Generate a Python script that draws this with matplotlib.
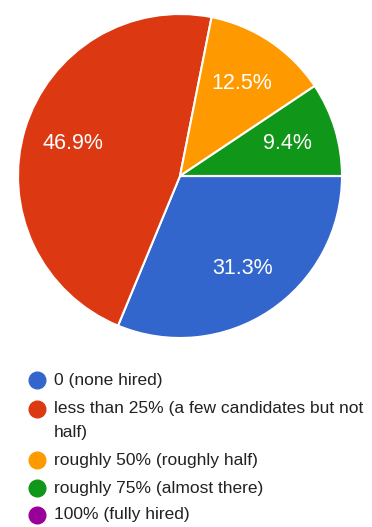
import math
import matplotlib
matplotlib.use("Agg")
import matplotlib.pyplot as plt
from matplotlib.lines import Line2D

plt.rcParams['font.family'] = ['Liberation Sans', 'DejaVu Sans']

# data
categories = ["0 (none hired)",
              "less than 25% (a few candidates but not\nhalf)",
              "roughly 50% (roughly half)",
              "roughly 75% (almost there)",
              "100% (fully hired)"]
counts = [10, 15, 4, 3, 0]
colors = ["#3366CC", "#DC3912", "#FF9900", "#109618", "#990099"]

W, H = 372, 527
fig = plt.figure(figsize=(W / 100, H / 100), dpi=100)

# pie area: centre (180, 176), radius 162 px
cx, cy, r = 180, 176, 162
ax = fig.add_axes([(cx - r) / W, (H - cy - r) / H, 2 * r / W, 2 * r / H])


def pct_fmt(p):
    if p <= 0:
        return ""
    return f"{math.floor(p * 10 + 0.5) / 10:.1f}%"


wedges, texts, autotexts = ax.pie(
    counts, colors=colors, startangle=0, counterclock=False,
    autopct=pct_fmt, pctdistance=0.69,
    wedgeprops=dict(edgecolor="white", linewidth=1.5),
    textprops=dict(color="white", fontsize=15.5))
ax.set_xlim(-1, 1)
ax.set_ylim(-1, 1)
ax.set_aspect("equal")

# legend below the pie, drawn by hand so the marker sits on the first line
item_y = [380, 409, 460, 488, 515]
for lab, col, y in zip(categories, colors, item_y):
    fig.add_artist(Line2D([37 / W], [1 - y / H], marker="o", markersize=12,
                          color=col, linestyle="none", transform=fig.transFigure))
    for i, line in enumerate(lab.split("\n")):
        fig.text(54 / W, 1 - (y + i * 23) / H, line, fontsize=12.5,
                 color="#222222", va="center", ha="left")

fig.savefig("out.png", dpi=100)
